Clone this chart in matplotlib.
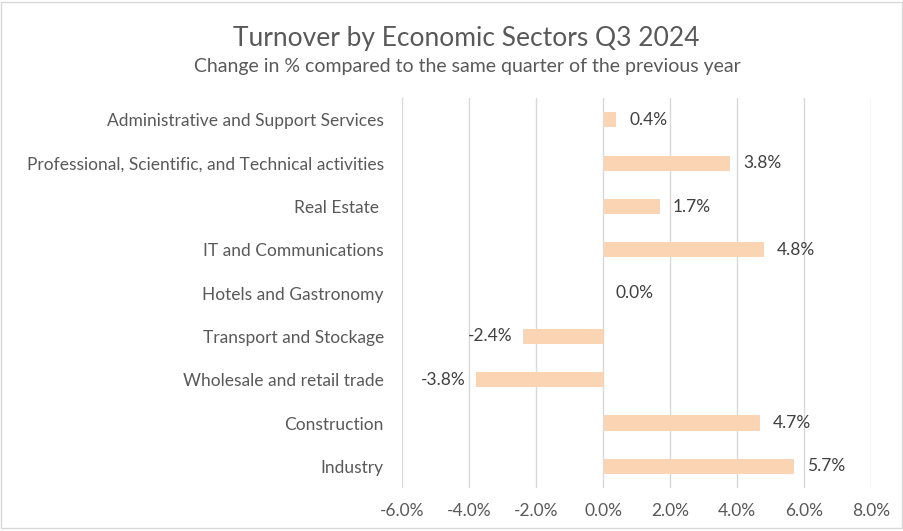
import matplotlib.pyplot as plt
from matplotlib.ticker import FuncFormatter
from matplotlib.patches import Rectangle

plt.rcParams['font.family'] = ['Lato', 'DejaVu Sans']

sectors = ["Administrative and Support Services",
           "Professional, Scientific, and Technical activities",
           "Real Estate ",
           "IT and Communications",
           "Hotels and Gastronomy",
           "Transport and Stockage",
           "Wholesale and retail trade",
           "Construction",
           "Industry"]
change = [0.4, 3.8, 1.7, 4.8, 0.0, -2.4, -3.8, 4.7, 5.7]
xticks = [-6, -4, -2, 0, 2, 4, 6, 8]

text_col = '#595959'
bar_col = '#FBD4B4'

fig = plt.figure(figsize=(9.04, 5.31), dpi=100, facecolor='white')
ax = fig.add_axes([0.4447, 0.081, 0.5188, 0.734])

ypos = list(range(len(sectors)))[::-1]
ax.barh(ypos, change, height=0.35, color=bar_col, zorder=3)

for y, v in zip(ypos, change):
    lab = f"{v:.1f}%"
    if v < 0:
        ax.text(v - 0.3, y, lab, ha='right', va='center', fontsize=12.5, color='#404040')
    else:
        ax.text(v + 0.38, y, lab, ha='left', va='center', fontsize=12.5, color='#404040')

ax.set_xlim(-6, 8)
ax.set_ylim(-0.5, len(sectors) - 0.5)
ax.set_xticks(xticks)
ax.xaxis.set_major_formatter(FuncFormatter(lambda x, p: f"{x:.1f}%"))
ax.set_yticks(ypos)
ax.set_yticklabels(sectors, fontsize=12.8)
ax.tick_params(axis='both', length=0, labelsize=12.5, colors=text_col)
ax.tick_params(axis='y', pad=13)
ax.tick_params(axis='x', pad=11)
ax.grid(axis='x', color='#D9D9D9', linewidth=1, zorder=0)
for s in ax.spines.values():
    s.set_visible(False)

fig.text(0.516, 0.928, "Turnover by Economic Sectors Q3 2024", ha='center', va='center',
         fontsize=19, color=text_col)
fig.text(0.517, 0.875, "Change in % compared to the same quarter of the previous year",
         ha='center', va='center', fontsize=14, color=text_col)

fig.patches.append(Rectangle((0.001, 0.006), 0.997, 0.99, transform=fig.transFigure,
                             fill=False, edgecolor='#D9D9D9', linewidth=1))

fig.savefig('out.png', dpi=100, facecolor='white')
